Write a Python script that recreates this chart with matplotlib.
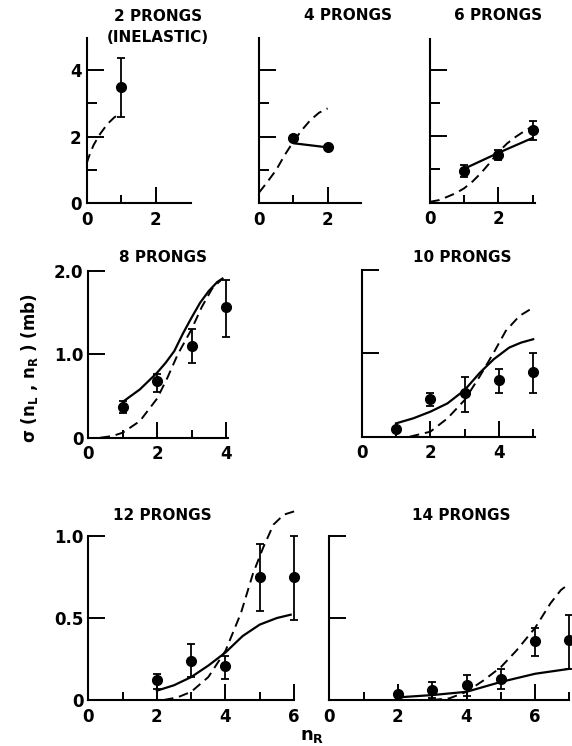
import numpy as np
import matplotlib.pyplot as plt
from matplotlib.ticker import FixedLocator

plt.rcParams['font.family'] = ['DejaVu Sans']
plt.rcParams['font.weight'] = 'bold'
plt.rcParams['font.size'] = 11
plt.rcParams['mathtext.fontset'] = 'custom'
plt.rcParams['mathtext.rm'] = 'DejaVu Sans:bold'
plt.rcParams['mathtext.it'] = 'DejaVu Sans:bold'
plt.rcParams['mathtext.default'] = 'rm'

# ---- data ----
# 2 prongs (inelastic)
p2_x = [1]
p2_y = [3.48]
p2_lo = [2.6]
p2_hi = [4.37]
p2_dash_x = [0, 0.05, 0.1, 0.2, 0.3, 0.4, 0.6, 0.8, 1.0]
p2_dash_y = [1.2, 1.36, 1.5, 1.75, 1.93, 2.1, 2.38, 2.58, 2.72]
p2_sol_x = []
p2_sol_y = []

# 4 prongs
p4_x = [1, 2]
p4_y = [1.95, 1.68]
p4_lo = [1.95, 1.68]
p4_hi = [1.95, 1.68]
p4_dash_x = [0, 0.25, 0.5, 0.75, 1.0, 1.25, 1.5, 1.75, 2.0]
p4_dash_y = [0.32, 0.65, 1.0, 1.45, 1.85, 2.2, 2.5, 2.72, 2.85]
p4_sol_x = [1.03, 2.0]
p4_sol_y = [1.8, 1.68]

# 6 prongs
p6_x = [1, 2, 3]
p6_y = [0.95, 1.45, 2.18]
p6_lo = [0.76, 1.29, 1.88]
p6_hi = [1.13, 1.6, 2.46]
p6_dash_x = [0, 0.25, 0.5, 0.75, 1.0, 1.25, 1.5, 1.75, 2.0, 2.25, 2.5, 2.75, 3.0]
p6_dash_y = [0.02, 0.07, 0.17, 0.28, 0.43, 0.64, 0.9, 1.2, 1.52, 1.78, 1.98, 2.15, 2.3]
p6_sol_x = [1, 2, 3]
p6_sol_y = [1.02, 1.5, 1.95]

# 8 prongs
p8_x = [1, 2, 3, 4]
p8_y = [0.37, 0.68, 1.1, 1.57]
p8_lo = [0.3, 0.55, 0.9, 1.21]
p8_hi = [0.44, 0.77, 1.31, 1.89]
p8_dash_x = [0.35, 0.7, 1.0, 1.5, 2.0, 2.3, 2.6, 3.0, 3.3, 3.6, 3.9]
p8_dash_y = [0, 0.02, 0.06, 0.2, 0.47, 0.72, 1.0, 1.3, 1.57, 1.79, 1.91]
p8_sol_x = [1.0, 1.5, 2.0, 2.25, 2.5, 2.75, 3.0, 3.25, 3.5, 3.75, 3.9]
p8_sol_y = [0.43, 0.58, 0.78, 0.9, 1.04, 1.25, 1.44, 1.62, 1.76, 1.87, 1.91]

# 10 prongs
p10_x = [1, 2, 3, 4, 5]
p10_y = [0.09, 0.45, 0.52, 0.68, 0.78]
p10_lo = [0.09, 0.37, 0.3, 0.52, 0.52]
p10_hi = [0.09, 0.52, 0.72, 0.81, 1.0]
p10_dash_x = [1.4, 2.0, 2.5, 3.0, 3.45, 3.85, 4.2, 4.6, 5.0]
p10_dash_y = [0, 0.06, 0.22, 0.44, 0.73, 1.01, 1.27, 1.45, 1.55]
p10_sol_x = [1.0, 1.5, 2.0, 2.5, 3.0, 3.45, 3.85, 4.3, 4.65, 5.0]
p10_sol_y = [0.16, 0.22, 0.3, 0.4, 0.56, 0.77, 0.93, 1.07, 1.13, 1.17]

# 12 prongs
p12_x = [2, 3, 4, 5, 6]
p12_y = [0.12, 0.24, 0.21, 0.75, 0.75]
p12_lo = [0.07, 0.14, 0.13, 0.54, 0.49]
p12_hi = [0.16, 0.34, 0.27, 0.95, 1.0]
p12_dash_x = [2.2, 2.6, 3.0, 3.5, 4.0, 4.45, 4.8, 5.1, 5.4, 5.7, 6.0]
p12_dash_y = [0, 0.016, 0.05, 0.14, 0.3, 0.53, 0.77, 0.93, 1.07, 1.13, 1.15]
p12_sol_x = [2.0, 2.5, 3.0, 3.5, 4.0, 4.5, 5.0, 5.5, 5.9]
p12_sol_y = [0.057, 0.09, 0.14, 0.21, 0.29, 0.39, 0.46, 0.5, 0.52]

# 14 prongs
p14_x = [2, 3, 4, 5, 6, 7]
p14_y = [0.037, 0.06, 0.09, 0.126, 0.36, 0.366]
p14_lo = [0.037, 0.01, 0.024, 0.065, 0.268, 0.19]
p14_hi = [0.037, 0.11, 0.15, 0.187, 0.437, 0.52]
p14_dash_x = [3.0, 3.5, 4.0, 4.5, 5.0, 5.45, 6.0, 6.45, 6.75, 7.0]
p14_dash_y = [0, 0.01, 0.05, 0.12, 0.2, 0.3, 0.44, 0.59, 0.67, 0.71]
p14_sol_x = [2.0, 3.0, 4.0, 4.5, 5.0, 6.0, 7.0]
p14_sol_y = [0.016, 0.03, 0.05, 0.08, 0.11, 0.16, 0.19]

titles = ['2 PRONGS\n(INELASTIC)', '4 PRONGS', '6 PRONGS', '8 PRONGS',
          '10 PRONGS', '12 PRONGS', '14 PRONGS']

panels = [
    (p2_x, p2_y, p2_lo, p2_hi, p2_dash_x, p2_dash_y, p2_sol_x, p2_sol_y),
    (p4_x, p4_y, p4_lo, p4_hi, p4_dash_x, p4_dash_y, p4_sol_x, p4_sol_y),
    (p6_x, p6_y, p6_lo, p6_hi, p6_dash_x, p6_dash_y, p6_sol_x, p6_sol_y),
    (p8_x, p8_y, p8_lo, p8_hi, p8_dash_x, p8_dash_y, p8_sol_x, p8_sol_y),
    (p10_x, p10_y, p10_lo, p10_hi, p10_dash_x, p10_dash_y, p10_sol_x, p10_sol_y),
    (p12_x, p12_y, p12_lo, p12_hi, p12_dash_x, p12_dash_y, p12_sol_x, p12_sol_y),
    (p14_x, p14_y, p14_lo, p14_hi, p14_dash_x, p14_dash_y, p14_sol_x, p14_sol_y),
]

# ---- layout (pixels): origin x, origin y, px per x unit, px per y unit, xmax, ymax
W, H = 572, 746
layout = [
    (86.7, 203.3, 34.5, 33.3, 3.02, 4.95),
    (259.0, 203.3, 34.3, 33.3, 2.96, 4.95),
    (430.0, 202.5, 34.2, 33.1, 3.07, 4.95),
    (88.3, 437.7, 34.4, 83.3, 4.05, 2.0),
    (361.7, 436.7, 34.3, 83.3, 5.05, 2.0),
    (88.3, 700.0, 34.3, 164.0, 6.0, 1.0),
    (329.3, 700.0, 34.3, 164.0, 7.0, 1.0),
]
# x major, x minor, y major, y minor, y labels (None = hidden)
ticks = [
    ([0, 2], [1], [0, 2, 4], [1, 3], ['0', '2', '4']),
    ([0, 2], [1], [0, 2, 4], [1, 3], None),
    ([0, 2], [1, 3], [0, 2, 4], [1, 3], None),
    ([0, 2, 4], [1, 3], [0, 1, 2], [], ['0', '1.0', '2.0']),
    ([0, 2, 4], [1, 3, 5], [0, 1, 2], [], None),
    ([0, 2, 4, 6], [1, 3, 5], [0, 0.5, 1.0], [], ['0', '0.5', '1.0']),
    ([0, 2, 4, 6], [1, 3, 5, 7], [0, 0.5, 1.0], [], None),
]
title_pos = [(158, 27), (348, 16), (498, 16), (163, 258), (462, 257),
             (162, 515), (461, 515)]

fig = plt.figure(figsize=(W / 100, H / 100), dpi=100)

for i in range(7):
    ox, oy, xu, yu, xmax, ymax = layout[i]
    rect = [ox / W, (H - oy) / H, xmax * xu / W, ymax * yu / H]
    ax = fig.add_axes(rect)
    x, y, lo, hi, dx, dy, sx, sy = panels[i]
    y = np.array(y)
    yerr = [y - np.array(lo), np.array(hi) - y]
    ax.plot(dx, dy, color='black', lw=1.4, dashes=[5, 3], clip_on=False)
    if len(sx):
        ax.plot(sx, sy, color='black', lw=1.6, clip_on=False)
    ax.errorbar(x, y, yerr=yerr, fmt='o', color='black', ms=7, capsize=3,
                elinewidth=1.3, capthick=1.3, clip_on=False)
    ax.set_xlim(0, xmax)
    ax.set_ylim(0, ymax)
    for s in ['top', 'right']:
        ax.spines[s].set_visible(False)
    for s in ['left', 'bottom']:
        ax.spines[s].set_linewidth(1.5)
    xmaj, xmin, ymaj, ymin, ylab = ticks[i]
    ax.xaxis.set_major_locator(FixedLocator(xmaj))
    ax.xaxis.set_minor_locator(FixedLocator(xmin))
    ax.yaxis.set_major_locator(FixedLocator(ymaj))
    ax.yaxis.set_minor_locator(FixedLocator(ymin))
    ax.set_xticklabels([str(v) for v in xmaj])
    if ylab is None:
        ax.tick_params(axis='y', labelleft=False)
    else:
        ax.set_yticklabels(ylab)
    ax.tick_params(axis='x', which='major', direction='in', length=11.5, width=1.4, pad=5.5)
    ax.tick_params(axis='x', which='minor', direction='in', length=6, width=1.4)
    ax.tick_params(axis='y', which='major', direction='in', length=12.2, width=1.4, pad=3.6)
    ax.tick_params(axis='y', which='minor', direction='in', length=7, width=1.4)
    ax.tick_params(labelsize=12)
    ax.patch.set_alpha(0)

for t, (px, py) in zip(titles, title_pos):
    fig.text(px / W, 1 - py / H, t, ha='center', va='center', fontsize=11,
             fontweight='bold', linespacing=1.45)

fig.text(30 / W, 1 - 368 / H, 'σ (n$_{L}$ , n$_{R}$ ) (mb)', rotation=90,
         ha='center', va='center', fontsize=12)
fig.text(312 / W, 1 - 736 / H, 'n$_{R}$', ha='center', va='center', fontsize=13)

fig.savefig('out.png', dpi=100)
